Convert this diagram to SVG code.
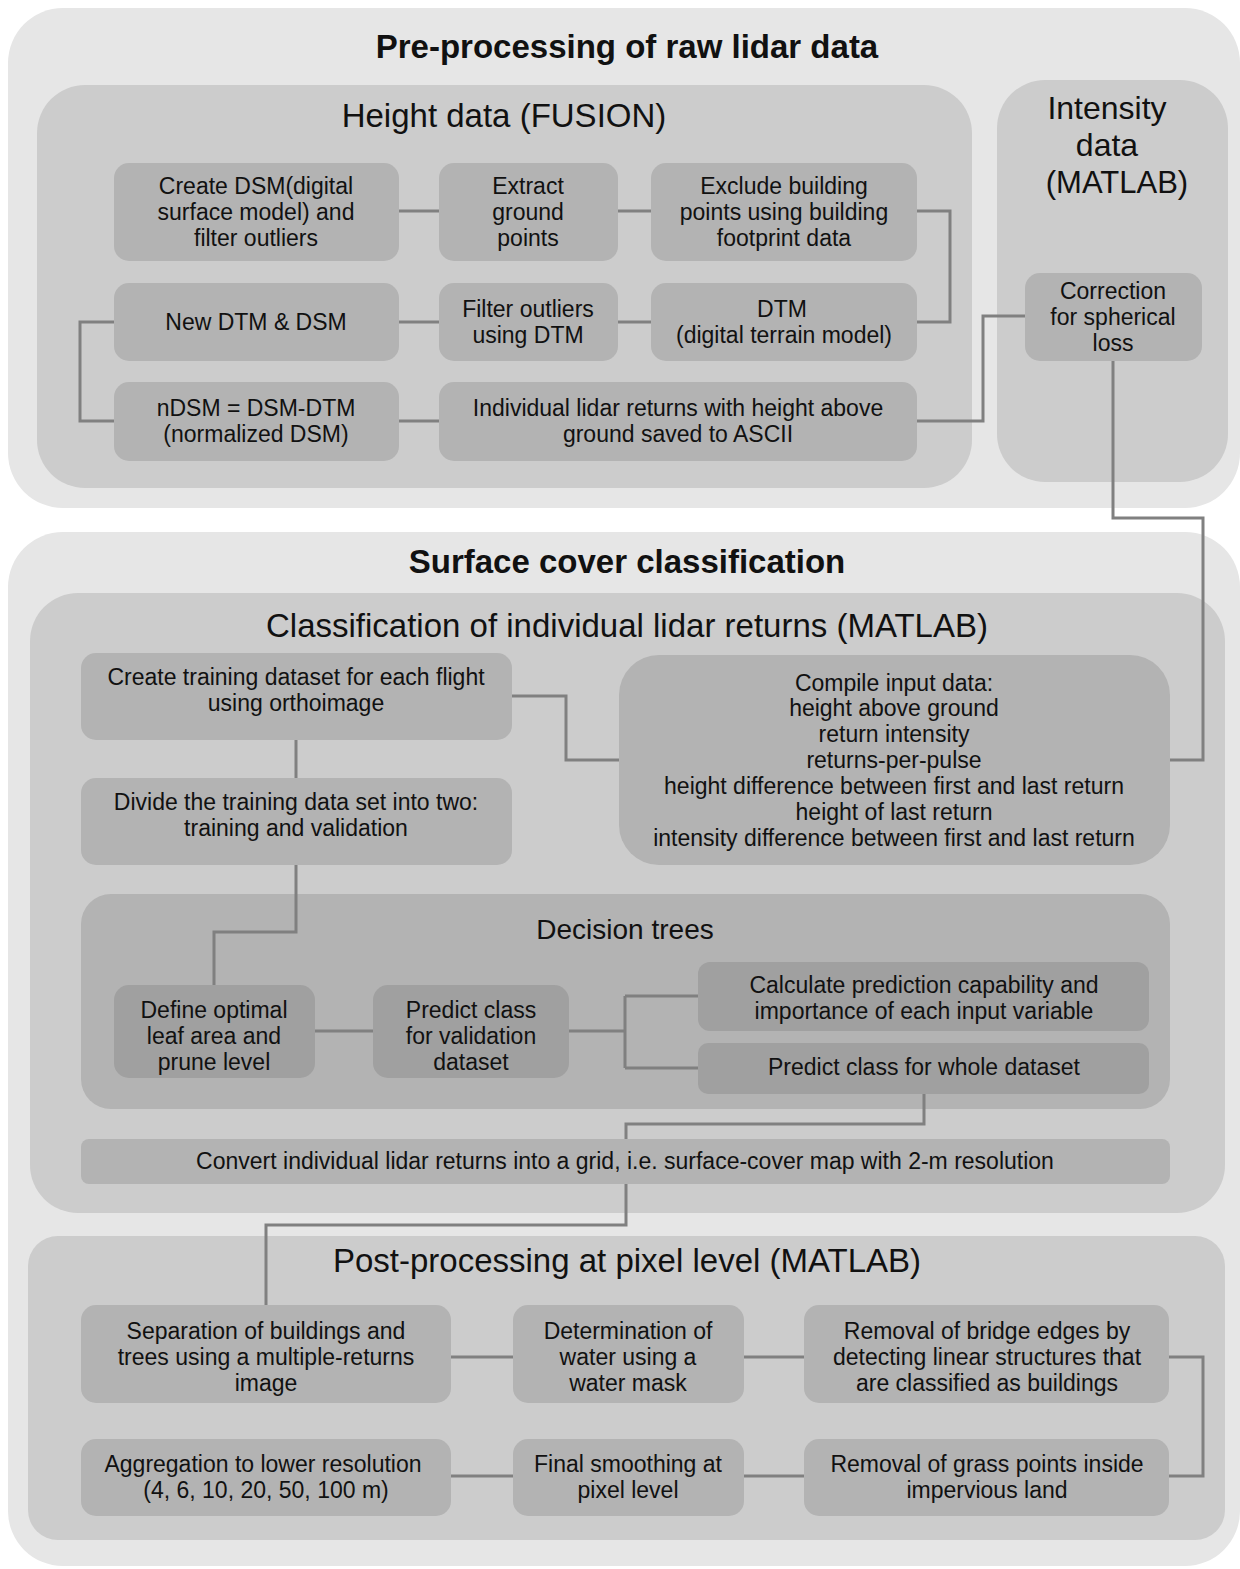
<svg xmlns="http://www.w3.org/2000/svg" width="1240" height="1569" viewBox="0 0 1240 1569">
<style>
text{font-family:"Liberation Sans",Arial,sans-serif;fill:#111;text-anchor:middle;dominant-baseline:central}
.t{font-size:23px}
.h{font-size:33px}
.b{font-size:33px;font-weight:bold}
.outer{fill:#e6e6e6}
.panel{fill:#cccccc}
.n{fill:#b3b3b3}
.d{fill:#a0a0a0}
.c{fill:none;stroke:#808080;stroke-width:3}
</style>
<rect width="1240" height="1569" fill="#ffffff"/>
<g id="preprocessing">
<rect class="outer" x="8" y="8" width="1232" height="500" rx="55"/>
<text class="b" x="627" y="46">Pre-processing of raw lidar data</text>
</g>
<g id="height-panel">
<rect class="panel" x="37" y="85" width="935" height="403" rx="48"/>
<text class="h" x="504" y="115">Height data (FUSION)</text>
</g>
<g id="intensity-panel">
<rect class="panel" x="997" y="80" width="231" height="402" rx="48"/>
<text class="h" x="1107" y="108" style="font-size:32px">Intensity</text>
<text class="h" x="1107" y="145" style="font-size:32px">data</text>
<text class="h" x="1117" y="182" style="font-size:31px">(MATLAB)</text>
</g>
<g id="surface">
<rect class="outer" x="8" y="532" width="1232" height="1034" rx="55"/>
<text class="b" x="627" y="561">Surface cover classification</text>
</g>
<g id="classification-panel">
<rect class="panel" x="30" y="593" width="1195" height="620" rx="48"/>
<text class="h" x="627" y="625">Classification of individual lidar returns (MATLAB)</text>
</g>
<g id="decision-panel">
<rect class="n" x="81" y="894" width="1089" height="215" rx="30"/>
<text class="t" x="625" y="929" style="font-size:28px">Decision trees</text>
</g>
<g id="post-panel">
<rect class="panel" x="28" y="1236" width="1197" height="304" rx="30"/>
<text class="h" x="627" y="1260">Post-processing at pixel level (MATLAB)</text>
</g>
<g id="connectors">
<path class="c" d="M399 211H439M618 211H651M917 211H950V322H917M651 322H618M439 322H399M114 322H80V421H114M399 421H439M917 421H983V316H1025"/>
<path class="c" d="M1113 361V518H1203V760H1170"/>
<path class="c" d="M512 696H566V760H619M296 740V778M296 865V932H214V985"/>
<path class="c" d="M315 1031H373M569 1031H625M625 996V1068M625 996H698M625 1068H698M924 1094V1124H626V1139M626 1184V1225H266V1305"/>
<path class="c" d="M451 1357H513M744 1357H804M1169 1357H1203V1476H1169M804 1476H744M513 1476H451"/>
</g>
<g id="n-create-dsm"><rect class="n" x="114" y="163" width="285" height="98" rx="15"/>
<text class="t" x="256" y="186">Create DSM(digital</text><text class="t" x="256" y="212">surface model) and</text><text class="t" x="256" y="238">filter outliers</text></g>
<g id="n-extract"><rect class="n" x="439" y="163" width="179" height="98" rx="15"/>
<text class="t" x="528" y="186">Extract</text><text class="t" x="528" y="212">ground</text><text class="t" x="528" y="238">points</text></g>
<g id="n-exclude"><rect class="n" x="651" y="163" width="266" height="98" rx="15"/>
<text class="t" x="784" y="186">Exclude building</text><text class="t" x="784" y="212">points using building</text><text class="t" x="784" y="238">footprint data</text></g>
<g id="n-newdtm"><rect class="n" x="114" y="283" width="285" height="78" rx="15"/>
<text class="t" x="256" y="322">New DTM &amp; DSM</text></g>
<g id="n-filter"><rect class="n" x="439" y="283" width="179" height="78" rx="15"/>
<text class="t" x="528" y="309">Filter outliers</text><text class="t" x="528" y="335">using DTM</text></g>
<g id="n-dtm"><rect class="n" x="651" y="283" width="266" height="78" rx="15"/>
<text class="t" x="782" y="309">DTM</text><text class="t" x="784" y="335">(digital terrain model)</text></g>
<g id="n-ndsm"><rect class="n" x="114" y="382" width="285" height="79" rx="15"/>
<text class="t" x="256" y="408">nDSM = DSM-DTM</text><text class="t" x="256" y="434">(normalized DSM)</text></g>
<g id="n-individual"><rect class="n" x="439" y="382" width="478" height="79" rx="15"/>
<text class="t" x="678" y="408">Individual lidar returns with height above</text><text class="t" x="678" y="434">ground saved to ASCII</text></g>
<g id="n-correction"><rect class="n" x="1025" y="273" width="177" height="88" rx="15"/>
<text class="t" x="1113" y="291">Correction</text><text class="t" x="1113" y="317">for spherical</text><text class="t" x="1113" y="343">loss</text></g>
<g id="n-training"><rect class="n" x="81" y="653" width="431" height="87" rx="15"/>
<text class="t" x="296" y="677">Create training dataset for each flight</text><text class="t" x="296" y="703">using orthoimage</text></g>
<g id="n-divide"><rect class="n" x="81" y="778" width="431" height="87" rx="15"/>
<text class="t" x="296" y="802">Divide the training data set into two:</text><text class="t" x="296" y="828">training and validation</text></g>
<g id="n-compile"><rect class="n" x="619" y="655" width="551" height="210" rx="40"/>
<text class="t" x="894" y="683">Compile input data:</text>
<text class="t" x="894" y="708">height above ground</text>
<text class="t" x="894" y="734">return intensity</text>
<text class="t" x="894" y="760">returns-per-pulse</text>
<text class="t" x="894" y="786">height difference between first and last return</text>
<text class="t" x="894" y="812">height of last return</text>
<text class="t" x="894" y="838">intensity difference between first and last return</text></g>
<g id="n-define"><rect class="d" x="114" y="985" width="201" height="93" rx="15"/>
<text class="t" x="214" y="1010">Define optimal</text><text class="t" x="214" y="1036">leaf area and</text><text class="t" x="214" y="1062">prune level</text></g>
<g id="n-predict-val"><rect class="d" x="373" y="985" width="196" height="93" rx="15"/>
<text class="t" x="471" y="1010">Predict class</text><text class="t" x="471" y="1036">for validation</text><text class="t" x="471" y="1062">dataset</text></g>
<g id="n-calc"><rect class="d" x="698" y="962" width="451" height="69" rx="12"/>
<text class="t" x="924" y="985">Calculate prediction capability and</text><text class="t" x="924" y="1011">importance of each input variable</text></g>
<g id="n-predict-whole"><rect class="d" x="698" y="1043" width="451" height="51" rx="10"/>
<text class="t" x="924" y="1067">Predict class for whole dataset</text></g>
<g id="n-convert"><rect class="n" x="81" y="1139" width="1089" height="45" rx="8"/>
<text class="t" x="625" y="1161">Convert individual lidar returns into a grid, i.e. surface-cover map with 2-m resolution</text></g>
<g id="n-separation"><rect class="n" x="81" y="1305" width="370" height="98" rx="15"/>
<text class="t" x="266" y="1331">Separation of buildings and</text><text class="t" x="266" y="1357">trees using a multiple-returns</text><text class="t" x="266" y="1383">image</text></g>
<g id="n-water"><rect class="n" x="513" y="1305" width="231" height="98" rx="15"/>
<text class="t" x="628" y="1331">Determination of</text><text class="t" x="628" y="1357">water using a</text><text class="t" x="628" y="1383">water mask</text></g>
<g id="n-bridge"><rect class="n" x="804" y="1305" width="365" height="98" rx="15"/>
<text class="t" x="987" y="1331">Removal of bridge edges by</text><text class="t" x="987" y="1357">detecting linear structures that</text><text class="t" x="987" y="1383">are classified as buildings</text></g>
<g id="n-aggregation"><rect class="n" x="81" y="1439" width="370" height="77" rx="15"/>
<text class="t" x="263" y="1464">Aggregation to lower resolution</text><text class="t" x="266" y="1490">(4, 6, 10, 20, 50, 100 m)</text></g>
<g id="n-smoothing"><rect class="n" x="513" y="1439" width="231" height="77" rx="15"/>
<text class="t" x="628" y="1464">Final smoothing at</text><text class="t" x="628" y="1490">pixel level</text></g>
<g id="n-grass"><rect class="n" x="804" y="1439" width="365" height="77" rx="15"/>
<text class="t" x="987" y="1464">Removal of grass points inside</text><text class="t" x="987" y="1490">impervious land</text></g>
</svg>
